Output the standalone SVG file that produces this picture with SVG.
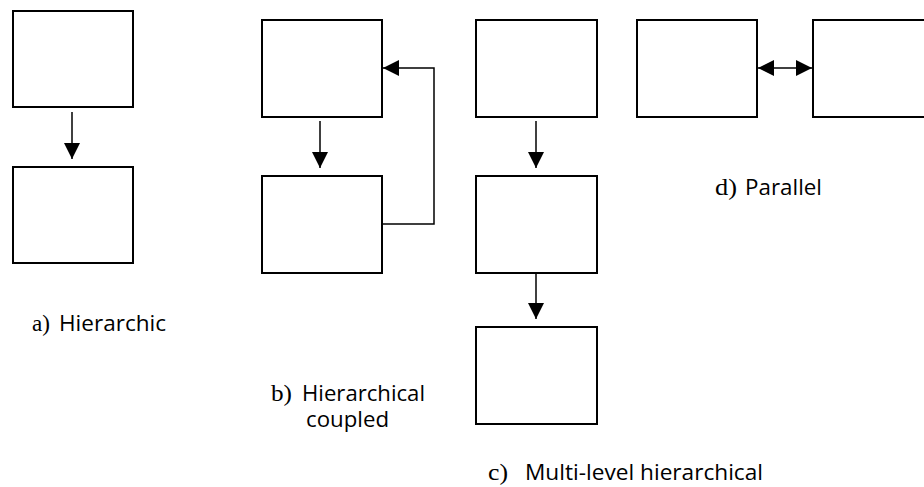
<svg xmlns="http://www.w3.org/2000/svg" width="924" height="487" viewBox="0 0 924 487">
<style>
.box{fill:#fff;stroke:#000;stroke-width:2}
.ln{fill:none;stroke:#000;stroke-width:1.5}
.ser{font-family:"Liberation Serif",serif;font-size:24px;fill:#000}
.san{font-family:"Open Sans","Liberation Sans",sans-serif;font-size:21px;fill:#000}
</style>
<defs>
<marker id="ah" markerUnits="userSpaceOnUse" markerWidth="16" markerHeight="16" viewBox="0 0 16 16" refX="16" refY="8" orient="auto-start-reverse">
<path d="M0,0 L16,8 L0,16 Z" fill="#000"/>
</marker>
</defs>
<rect width="924" height="487" fill="#fff"/>
<g id="a-top"><rect class="box" x="13" y="11" width="120" height="96"/></g>
<g id="a-bottom"><rect class="box" x="13" y="167" width="120" height="96"/></g>
<g id="b-top"><rect class="box" x="262" y="20" width="120" height="97"/></g>
<g id="b-bottom"><rect class="box" x="262" y="176" width="120" height="97"/></g>
<g id="c-top"><rect class="box" x="476" y="20" width="121" height="97"/></g>
<g id="c-middle"><rect class="box" x="476" y="176" width="121" height="97"/></g>
<g id="c-bottom"><rect class="box" x="476" y="327" width="121" height="97"/></g>
<g id="d-left"><rect class="box" x="637" y="20" width="120" height="97"/></g>
<g id="d-right"><rect class="box" x="813" y="20" width="120" height="97"/></g>
<g id="connectors">
<line class="ln" x1="72" y1="112" x2="72" y2="159" marker-end="url(#ah)"/>
<line class="ln" x1="320" y1="121" x2="320" y2="168" marker-end="url(#ah)"/>
<polyline class="ln" points="382,224 434,224 434,68 383,68" marker-end="url(#ah)"/>
<line class="ln" x1="536" y1="121" x2="536" y2="168" marker-end="url(#ah)"/>
<line class="ln" x1="536" y1="273" x2="536" y2="319" marker-end="url(#ah)"/>
<line class="ln" x1="758" y1="68" x2="812" y2="68" marker-start="url(#ah)" marker-end="url(#ah)"/>
</g>
<g id="labels">
<text class="ser" x="32" y="331" textLength="18" lengthAdjust="spacingAndGlyphs">a)</text>
<text class="san" x="59" y="331" textLength="107" lengthAdjust="spacingAndGlyphs">Hierarchic</text>
<text class="ser" x="271" y="401" textLength="21" lengthAdjust="spacingAndGlyphs">b)</text>
<text class="san" x="302" y="401" textLength="123" lengthAdjust="spacingAndGlyphs">Hierarchical</text>
<text class="san" x="306" y="427" textLength="83" lengthAdjust="spacingAndGlyphs">coupled</text>
<text class="ser" x="488" y="480" textLength="20" lengthAdjust="spacingAndGlyphs">c)</text>
<text class="san" x="525" y="480" textLength="238" lengthAdjust="spacingAndGlyphs">Multi-level hierarchical</text>
<text class="ser" x="715" y="195" textLength="22" lengthAdjust="spacingAndGlyphs">d)</text>
<text class="san" x="745" y="195" textLength="77" lengthAdjust="spacingAndGlyphs">Parallel</text>
</g>
</svg>
